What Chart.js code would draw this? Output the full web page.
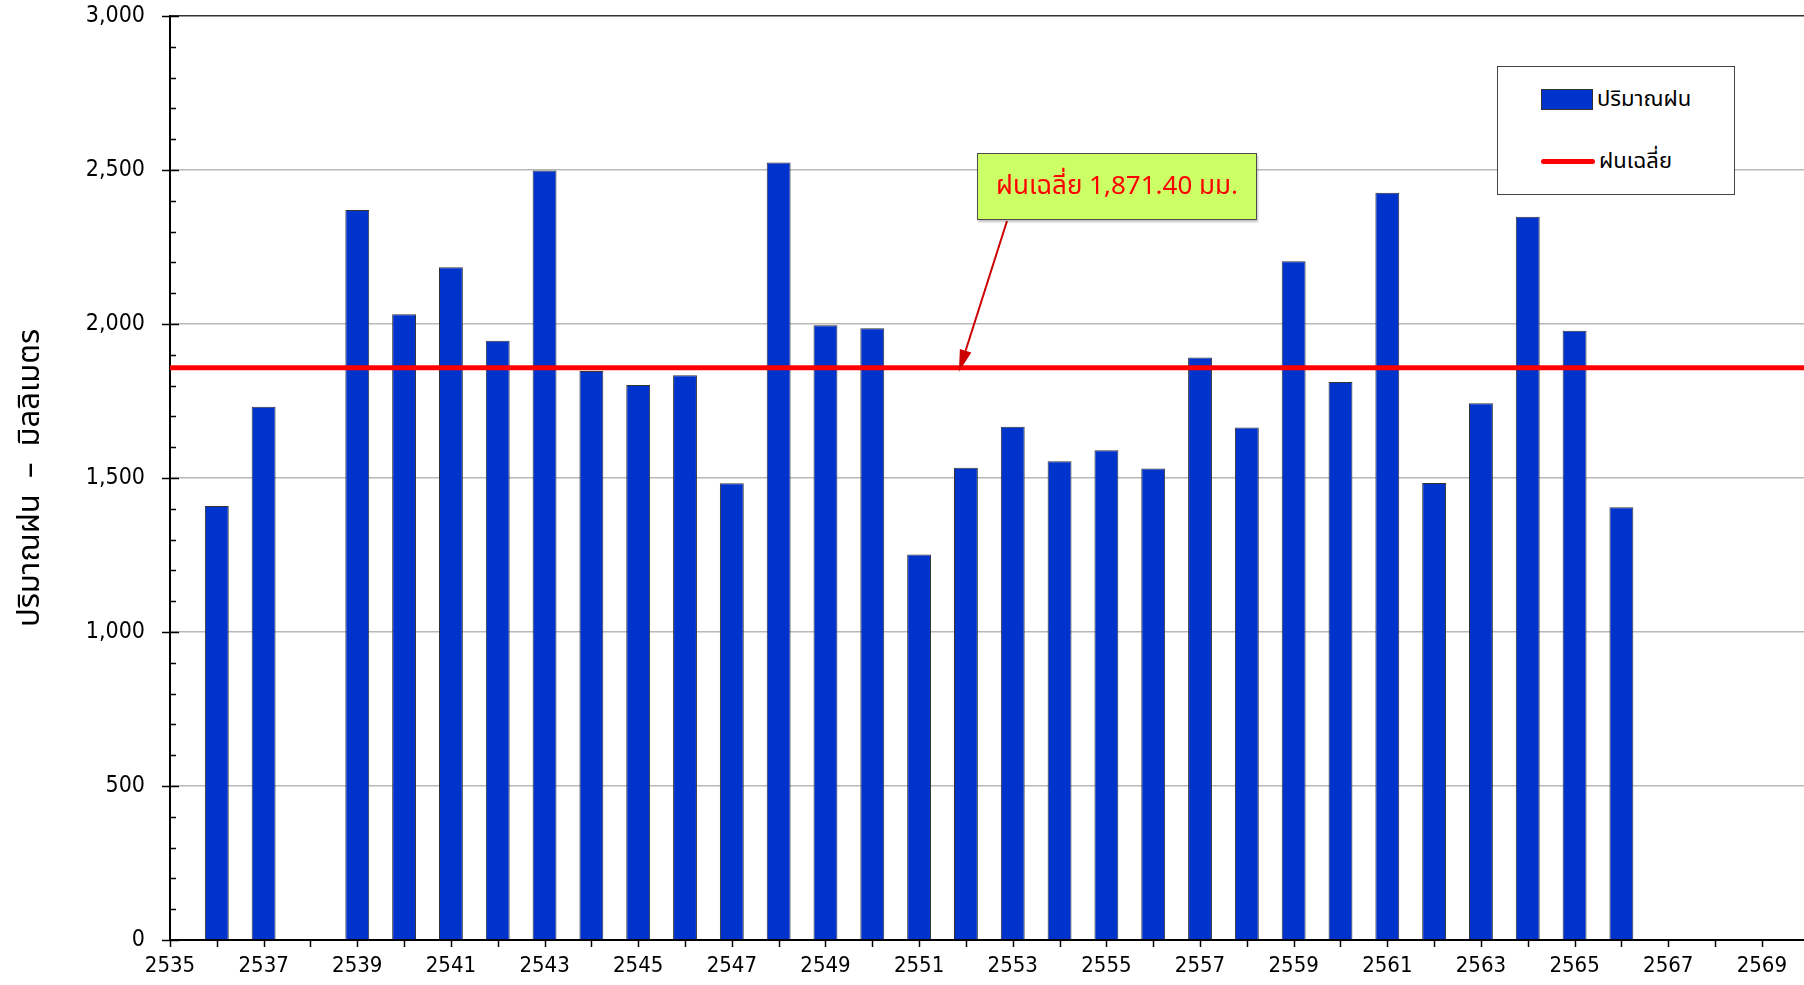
<!DOCTYPE html>
<html>
<head>
<meta charset="utf-8">
<script src="https://cdn.jsdelivr.net/npm/chart.js@4.4.1/dist/chart.umd.min.js"></script>
<style>
    html, body { margin: 0; padding: 0; background: #fff; }
    #wrap { position: relative; width: 1804px; height: 985px; overflow: hidden; }
    #rainChart { position: absolute; left: 0; top: 0; }
    .thai { font-family: Tahoma, "Noto Sans Thai", "DejaVu Sans", sans-serif; }
    #note {
        position: absolute; left: 977px; top: 153px; width: 278px; height: 65px;
        background: #ccff66; border: 1.5px solid #4d4d4d;
        color: #ff0000; font-size: 26px; line-height: 65px; text-align: center;
        box-shadow: 1px 2px 2px rgba(0,0,0,0.25);
    }
    #legendBox {
        position: absolute; left: 1497px; top: 66px; width: 236px; height: 127px;
        background: #fff; border: 1.5px solid #444;
    }
    .legRow { position: absolute; left: 43px; height: 30px; display: flex; align-items: center; }
    .legRow span { font-size: 22px; color: #000; margin-left: 4px; }
    .swBar { width: 50px; height: 19px; background: #0033cc; border: 1px solid #333; }
    .swLine { width: 54px; height: 5px; background: #ff0000; border-radius: 3px; }
</style>
</head>
<body>
<div id="wrap">
    <canvas id="rainChart" width="1804" height="985"></canvas>
    <div id="note" class="thai"></div>
    <div id="legendBox" class="thai">
        <div class="legRow" style="top:17px"><div class="swBar"></div><span id="legBar"></span></div>
        <div class="legRow" style="top:79px"><div class="swLine"></div><span id="legLine"></span></div>
    </div>
</div>
<script>
// Rainfall by year (Buddhist era)
const years = [2536, 2537, 2539, 2540, 2541, 2542, 2543, 2544, 2545, 2546,
               2547, 2548, 2549, 2550, 2551, 2552, 2553, 2554, 2555, 2556,
               2557, 2558, 2559, 2560, 2561, 2562, 2563, 2564, 2565, 2566];
const rain = [1409, 1731, 2370, 2032, 2184, 1946, 2498, 1847, 1802, 1834,
              1483, 2524, 1996, 1986, 1252, 1533, 1666, 1554, 1590, 1531,
              1891, 1664, 2204, 1812, 2426, 1484, 1743, 2348, 1978, 1405];

// Average line (as drawn) and its label
const avgRain = 1858;
const avgLabel = 'ฝนเฉลี่ย 1,871.40 มม.';

// Axis ranges / ticks
const xRange = [2535, 2569.9];
const yRange = [0, 3000];
const yMajorStep = 500;
const yMinorStep = 100;

const seriesName = 'ปริมาณฝน';
const avgName = 'ฝนเฉลี่ย';
const yTitle = 'ปริมาณฝน  –  มิลลิเมตร';

const thaiFont = 'Tahoma, "Noto Sans Thai", "DejaVu Sans", sans-serif';
const numFont = '"DejaVu Sans Condensed", "DejaVu Sans", sans-serif';

document.getElementById('note').textContent = avgLabel;
document.getElementById('legBar').textContent = seriesName;
document.getElementById('legLine').textContent = avgName;

/**
 * Axis tick marks (minor inside, major crossing) and the annotation arrow
 */
const tickMarks = {
    id: 'tickMarks',
    afterDraw(chart) {
        const ctx = chart.ctx;
        const xs = chart.scales.x;
        const ys = chart.scales.y;
        const left = chart.chartArea.left;
        const bottom = chart.chartArea.bottom;
        ctx.save();
        ctx.strokeStyle = '#000';
        ctx.lineWidth = 1.5;
        ctx.beginPath();
        for (let v = yRange[0]; v <= yRange[1]; v += yMinorStep) {
            const py = Math.round(ys.getPixelForValue(v)) + 0.5;
            if (v % yMajorStep === 0) {
                ctx.moveTo(left - 8, py);
                ctx.lineTo(left + 9, py);
            } else {
                ctx.moveTo(left, py);
                ctx.lineTo(left + 6, py);
            }
        }
        for (let yr = xRange[0]; yr <= xRange[1]; yr++) {
            const px = Math.round(xs.getPixelForValue(yr)) + 0.5;
            ctx.moveTo(px, bottom);
            ctx.lineTo(px, bottom + 7);
        }
        ctx.stroke();

        // arrow from the note box to the average line
        const x0 = 1007, y0 = 221;
        const x1 = xs.getPixelForValue(2551.85);
        const y1 = ys.getPixelForValue(avgRain) + 4;
        const ang = Math.atan2(y1 - y0, x1 - x0);
        const len = 22, half = 6;
        const bx = x1 - len * Math.cos(ang), by = y1 - len * Math.sin(ang);
        ctx.strokeStyle = '#cc0000';
        ctx.fillStyle = '#cc0000';
        ctx.lineWidth = 2;
        ctx.beginPath();
        ctx.moveTo(x0, y0);
        ctx.lineTo(bx, by);
        ctx.stroke();
        ctx.beginPath();
        ctx.moveTo(x1, y1);
        ctx.lineTo(bx + half * Math.sin(ang), by - half * Math.cos(ang));
        ctx.lineTo(bx - half * Math.sin(ang), by + half * Math.cos(ang));
        ctx.closePath();
        ctx.fill();
        ctx.restore();
    }
};

function initChart() {
    const barPoints = years.map((yr, i) => ({ x: yr, y: rain[i] }));
    const avgPoints = xRange.map(yr => ({ x: yr, y: avgRain }));

    new Chart(document.getElementById('rainChart'), {
        type: 'bar',
        data: {
            datasets: [
                {
                    type: 'line',
                    label: avgName,
                    data: avgPoints,
                    borderColor: '#ff0000',
                    borderWidth: 5,
                    pointRadius: 0,
                    fill: false,
                    order: 0
                },
                {
                    label: seriesName,
                    data: barPoints,
                    backgroundColor: '#0033cc',
                    borderColor: '#333333',
                    borderWidth: 1,
                    categoryPercentage: 1.0,
                    barPercentage: 0.51,
                    order: 1
                }
            ]
        },
        options: {
            responsive: false,
            maintainAspectRatio: false,
            devicePixelRatio: 1,
            animation: false,
            layout: { padding: { top: 16, right: 0, left: 0, bottom: 0 } },
            plugins: {
                legend: { display: false },
                tooltip: { enabled: false }
            },
            scales: {
                x: {
                    type: 'linear',
                    min: xRange[0],
                    max: xRange[1],
                    offset: false,
                    grid: { display: false, offset: false, drawTicks: false },
                    border: { display: true, color: '#000', width: 2 },
                    // one tick per whole year
                    afterBuildTicks: (scale) => {
                        const ticks = [];
                        for (let yr = xRange[0]; yr <= Math.floor(xRange[1]); yr++) {
                            ticks.push({ value: yr });
                        }
                        scale.ticks = ticks;
                    },
                    afterFit: (scale) => {
                        scale.height = 45;
                        scale.paddingLeft = 0;
                        scale.paddingRight = 0;
                    },
                    ticks: {
                        autoSkip: false,
                        maxRotation: 0,
                        padding: 13,
                        color: '#000',
                        font: { family: numFont, size: 22 },
                        callback: (v) => (v % 2 === 1 ? String(v) : '')
                    }
                },
                y: {
                    min: yRange[0],
                    max: yRange[1],
                    afterFit: (scale) => {
                        scale.width = 170;
                        scale.paddingTop = 0;
                        scale.paddingBottom = 0;
                    },
                    grid: {
                        drawTicks: false,
                        lineWidth: 1.5,
                        color: (c) => {
                            const v = c.tick.value;
                            if (v === yRange[1]) return '#333';
                            if (v % yMajorStep === 0) return '#b8b8b8';
                            return 'rgba(0,0,0,0)';
                        }
                    },
                    border: { display: true, color: '#000', width: 2 },
                    title: {
                        display: true,
                        text: yTitle,
                        color: '#000',
                        font: { family: thaiFont, size: 31 },
                        padding: { top: 14, bottom: 0 }
                    },
                    ticks: {
                        stepSize: yMinorStep,
                        autoSkip: false,
                        padding: 25,
                        color: '#000',
                        font: { family: numFont, size: 23 },
                        callback: (v) => (v % yMajorStep === 0 ? v.toLocaleString('en-US') : '')
                    }
                }
            }
        },
        plugins: [tickMarks]
    });
}

document.addEventListener('DOMContentLoaded', initChart);
</script>
</body>
</html>
